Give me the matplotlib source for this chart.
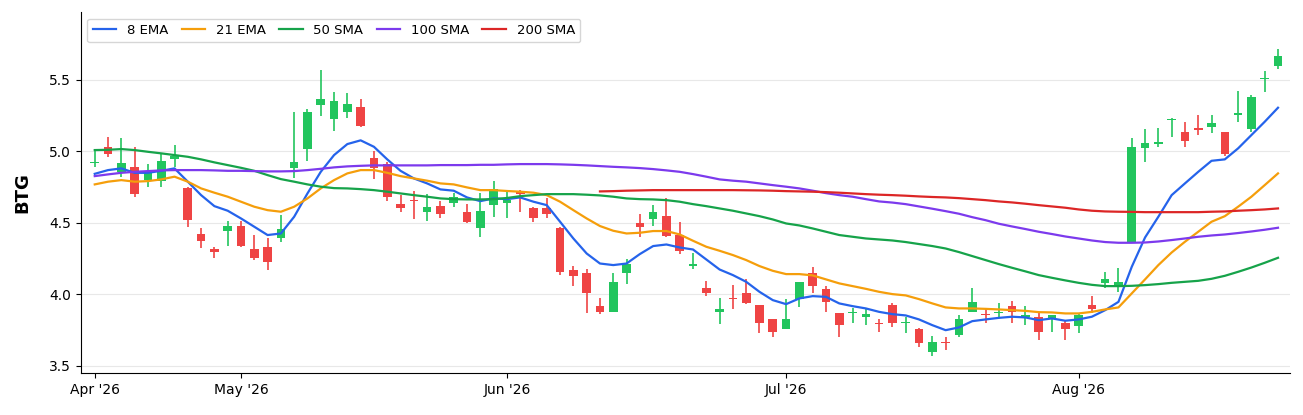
import numpy as np
import pandas as pd
import matplotlib
matplotlib.use("Agg")
import matplotlib.pyplot as plt

# trading days shown (Apr 16 - Aug 24 2026, US market holidays removed)
HOLIDAYS = ["2026-05-25", "2026-06-19", "2026-07-03"]
dates = pd.bdate_range("2026-04-16", "2026-08-24")
dates = dates[~dates.isin(pd.to_datetime(HOLIDAYS))]

opens = [4.915, 5.026, 4.855, 4.886, 4.797, 4.790, 4.942, 4.739, 4.417, 4.315,
         4.440, 4.478, 4.312, 4.326, 4.389, 4.879, 5.012, 5.319, 5.221, 5.270,
         5.310, 4.953, 4.909, 4.627, 4.657, 4.571, 4.618, 4.634, 4.571, 4.459,
         4.622, 4.634, 4.723, 4.599, 4.599, 4.459, 4.172, 4.149, 3.916, 3.876,
         4.149, 4.494, 4.522, 4.545, 4.410, 4.198, 4.040, 3.872, 3.974, 4.005,
         3.923, 3.823, 3.753, 3.965, 4.149, 4.033, 3.870, 3.865, 3.837, 3.800,
         3.923, 3.795, 3.753, 3.597, 3.667, 3.713, 3.876, 3.860, 3.865, 3.916,
         3.842, 3.841, 3.830, 3.800, 3.776, 3.923, 4.079, 4.051, 4.359, 5.019,
         5.049, 5.217, 5.135, 5.158, 5.165, 5.135, 5.252, 5.152, 5.504, 5.597]
closes = [4.925, 4.979, 4.914, 4.697, 4.844, 4.928, 4.965, 4.517, 4.371, 4.296,
          4.478, 4.338, 4.256, 4.224, 4.457, 4.925, 5.270, 5.361, 5.352, 5.331,
          5.175, 4.879, 4.676, 4.600, 4.648, 4.606, 4.560, 4.676, 4.501, 4.580,
          4.734, 4.657, 4.699, 4.529, 4.557, 4.156, 4.126, 4.005, 3.876, 4.086,
          4.214, 4.471, 4.571, 4.406, 4.300, 4.210, 4.009, 3.893, 3.963, 3.940,
          3.795, 3.737, 3.823, 4.086, 4.056, 3.946, 3.783, 3.876, 3.860, 3.790,
          3.800, 3.807, 3.660, 3.667, 3.655, 3.823, 3.946, 3.851, 3.876, 3.876,
          3.853, 3.737, 3.853, 3.753, 3.853, 3.893, 4.103, 4.086, 5.030, 5.058,
          5.065, 5.224, 5.070, 5.147, 5.198, 4.979, 5.268, 5.380, 5.513, 5.664]
highs = [5.010, 5.100, 5.089, 5.030, 4.909, 4.980, 5.040, 4.746, 4.459, 4.326,
         4.513, 4.513, 4.413, 4.390, 4.552, 5.270, 5.294, 5.566, 5.410, 5.403,
         5.364, 5.000, 4.925, 4.692, 4.720, 4.699, 4.653, 4.708, 4.629, 4.704,
         4.792, 4.715, 4.727, 4.611, 4.669, 4.471, 4.196, 4.179, 3.970, 4.145,
         4.249, 4.559, 4.622, 4.669, 4.506, 4.284, 4.093, 3.974, 4.063, 4.103,
         3.923, 3.823, 3.963, 4.086, 4.191, 4.056, 3.870, 3.900, 3.900, 3.823,
         3.935, 3.840, 3.760, 3.706, 3.697, 3.853, 4.040, 3.900, 3.940, 3.953,
         3.916, 3.865, 3.853, 3.814, 3.865, 3.986, 4.156, 4.184, 5.089, 5.152,
         5.159, 5.228, 5.205, 5.252, 5.252, 5.135, 5.422, 5.392, 5.559, 5.711]
lows = [4.890, 4.956, 4.820, 4.680, 4.746, 4.746, 4.886, 4.466, 4.319, 4.250,
        4.338, 4.326, 4.238, 4.168, 4.366, 4.810, 4.932, 5.245, 5.142, 5.230,
        5.170, 4.804, 4.653, 4.571, 4.524, 4.513, 4.530, 4.606, 4.500, 4.396,
        4.536, 4.534, 4.576, 4.506, 4.529, 4.133, 4.056, 3.865, 3.860, 3.876,
        4.070, 4.400, 4.476, 4.396, 4.280, 4.179, 3.986, 3.790, 3.893, 3.930,
        3.725, 3.700, 3.753, 3.911, 4.005, 3.876, 3.700, 3.800, 3.783, 3.737,
        3.772, 3.725, 3.627, 3.566, 3.608, 3.700, 3.876, 3.795, 3.840, 3.795,
        3.783, 3.678, 3.737, 3.678, 3.725, 3.865, 4.040, 4.016, 4.359, 4.925,
        5.030, 5.100, 5.030, 5.112, 5.128, 4.965, 5.205, 5.135, 5.415, 5.571]

ema8 = [4.841, 4.867, 4.879, 4.848, 4.848, 4.862, 4.879, 4.786, 4.692, 4.615,
        4.583, 4.529, 4.471, 4.413, 4.424, 4.541, 4.704, 4.855, 4.972, 5.049,
        5.075, 5.030, 4.942, 4.862, 4.809, 4.774, 4.732, 4.723, 4.676, 4.650,
        4.669, 4.664, 4.676, 4.646, 4.622, 4.506, 4.389, 4.284, 4.214, 4.203,
        4.214, 4.280, 4.336, 4.347, 4.326, 4.312, 4.242, 4.172, 4.133, 4.086,
        4.016, 3.958, 3.930, 3.970, 3.986, 3.981, 3.935, 3.916, 3.900, 3.876,
        3.860, 3.851, 3.823, 3.783, 3.748, 3.767, 3.811, 3.823, 3.834, 3.842,
        3.837, 3.818, 3.830, 3.814, 3.823, 3.842, 3.888, 3.946, 4.191, 4.396,
        4.541, 4.692, 4.774, 4.855, 4.932, 4.942, 5.019, 5.112, 5.205, 5.303]
ema21 = [4.767, 4.786, 4.797, 4.786, 4.790, 4.802, 4.821, 4.786, 4.739, 4.709,
         4.681, 4.646, 4.611, 4.587, 4.576, 4.611, 4.669, 4.739, 4.797, 4.844,
         4.867, 4.867, 4.848, 4.825, 4.809, 4.793, 4.774, 4.767, 4.746, 4.727,
         4.727, 4.721, 4.716, 4.709, 4.692, 4.646, 4.587, 4.529, 4.476, 4.443,
         4.424, 4.429, 4.441, 4.441, 4.417, 4.373, 4.331, 4.303, 4.273, 4.238,
         4.196, 4.163, 4.140, 4.140, 4.131, 4.103, 4.075, 4.056, 4.037, 4.016,
         4.000, 3.991, 3.965, 3.935, 3.907, 3.900, 3.900, 3.897, 3.893, 3.888,
         3.883, 3.874, 3.872, 3.865, 3.865, 3.876, 3.893, 3.907, 4.005, 4.103,
         4.203, 4.291, 4.366, 4.436, 4.506, 4.545, 4.611, 4.681, 4.762, 4.844]
sma50 = [5.007, 5.009, 5.014, 5.007, 4.995, 4.984, 4.972, 4.960, 4.942, 4.921,
         4.902, 4.883, 4.862, 4.832, 4.804, 4.786, 4.767, 4.751, 4.741, 4.739,
         4.734, 4.727, 4.716, 4.704, 4.692, 4.681, 4.669, 4.664, 4.662, 4.662,
         4.664, 4.672, 4.685, 4.692, 4.699, 4.699, 4.699, 4.695, 4.690, 4.681,
         4.669, 4.664, 4.662, 4.657, 4.646, 4.629, 4.615, 4.599, 4.583, 4.564,
         4.545, 4.522, 4.494, 4.480, 4.459, 4.436, 4.413, 4.401, 4.389, 4.382,
         4.375, 4.364, 4.350, 4.336, 4.319, 4.294, 4.266, 4.238, 4.210, 4.184,
         4.159, 4.133, 4.114, 4.096, 4.079, 4.065, 4.056, 4.056, 4.058, 4.063,
         4.070, 4.079, 4.086, 4.093, 4.107, 4.128, 4.156, 4.186, 4.219, 4.254]
sma100 = [4.825, 4.837, 4.848, 4.855, 4.860, 4.865, 4.867, 4.867, 4.867, 4.865,
          4.862, 4.862, 4.860, 4.858, 4.858, 4.860, 4.867, 4.876, 4.886, 4.893,
          4.897, 4.900, 4.900, 4.900, 4.900, 4.900, 4.902, 4.902, 4.902, 4.904,
          4.904, 4.907, 4.909, 4.909, 4.909, 4.907, 4.904, 4.900, 4.895, 4.890,
          4.886, 4.881, 4.874, 4.865, 4.855, 4.839, 4.821, 4.802, 4.793, 4.786,
          4.774, 4.762, 4.751, 4.739, 4.723, 4.706, 4.692, 4.681, 4.664, 4.648,
          4.640, 4.629, 4.613, 4.597, 4.580, 4.562, 4.538, 4.517, 4.492, 4.473,
          4.455, 4.436, 4.420, 4.403, 4.389, 4.375, 4.364, 4.359, 4.359, 4.361,
          4.368, 4.378, 4.389, 4.401, 4.410, 4.417, 4.427, 4.438, 4.450, 4.464]
# 200 SMA only has values from the 39th bar onward
sma200 = [np.nan] * 38 + [
          4.718, 4.720, 4.723, 4.725, 4.727, 4.727, 4.727, 4.727, 4.727, 4.727,
          4.727, 4.726, 4.725, 4.723, 4.720, 4.718, 4.716, 4.713, 4.709, 4.704,
          4.699, 4.695, 4.692, 4.688, 4.683, 4.679, 4.676, 4.671, 4.664, 4.657,
          4.648, 4.641, 4.632, 4.622, 4.613, 4.604, 4.592, 4.583, 4.578, 4.576,
          4.575, 4.573, 4.573, 4.573, 4.573, 4.573, 4.576, 4.578, 4.583, 4.587,
          4.592, 4.599]

UP, DOWN = "#22c55e", "#ef4444"
MAS = [("8 EMA", ema8, "#2563eb"), ("21 EMA", ema21, "#f59e0b"),
       ("50 SMA", sma50, "#16a34a"), ("100 SMA", sma100, "#7c3aed"),
       ("200 SMA", sma200, "#dc2626")]

o, c, h, l = map(np.array, (opens, closes, highs, lows))
x = np.arange(len(o))
up = c >= o

fig = plt.figure(figsize=(13.03, 4.15), dpi=100)
ax = fig.add_axes([0.062, 0.101, 0.928, 0.870])

colors = np.where(up, UP, DOWN)
ax.vlines(x, l, h, colors=colors, lw=1.2, zorder=2)
body_lo = np.minimum(o, c)
body_h = np.maximum(np.abs(c - o), 0.008)
ax.bar(x, body_h, 0.65, bottom=body_lo, color=colors, zorder=3)

for name, vals, col in MAS:
    ax.plot(x, vals, color=col, lw=1.6, label=name, zorder=4)

# month ticks at the first trading day of each month
months = pd.Series(dates.month)
first = np.flatnonzero(months.ne(months.shift()).values)
ax.set_xticks(first)
ax.set_xticklabels([dates[i].strftime("%b '%y") for i in first])

ax.set_xlim(-1.05, 89.9)
ax.set_ylim(3.448, 5.972)
ax.set_yticks([3.5, 4.0, 4.5, 5.0, 5.5])
ax.tick_params(labelsize=10)
ax.grid(axis="y", color="#e8e8e8", lw=0.8, zorder=0)
ax.set_axisbelow(True)
for s in ("top", "right"):
    ax.spines[s].set_visible(False)
ax.set_ylabel("BTG", fontsize=13, fontweight="bold", labelpad=13)

ax.legend(loc="upper left", ncol=5, fontsize=9.5, frameon=True,
          edgecolor="#cccccc", borderaxespad=0.5, handlelength=1.8,
          columnspacing=1.0)

fig.savefig("out.png", dpi=100)
